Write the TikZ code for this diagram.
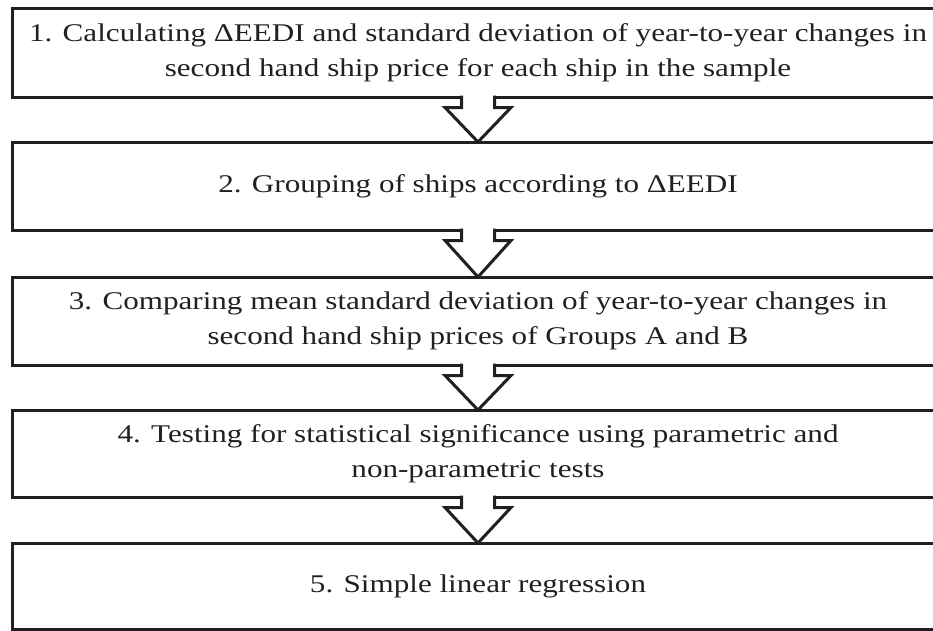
\documentclass[tikz,border=0pt]{standalone}
\usepackage{fontspec}
\setmainfont{Liberation Serif}[FakeStretch=1.22]
\usetikzlibrary{calc}
\definecolor{ink}{RGB}{35, 31, 32}

\newcommand{\downarrowstep}[2]{%
    \draw[stepArrow] ($(#1.south)+(-16.5,-1.5)$) -- ++(0,12) -- ++(-16.5,0)
        -- (#2.north) -- ($(#1.south)+(33,10.5)$) -- ++(-16.5,0) -- ++(0,-12);
}

\begin{document}
\begin{tikzpicture}[
        x=1pt, y=-1pt,
        stepBox/.style={
            draw=ink,
            line width=3pt,
            minimum width=932pt,
            inner sep=0pt,
            outer sep=0pt,
            align=center,
            text=ink,
            font=\fontsize{25.5}{35}\selectfont
        },
        stepArrow/.style={
            draw=ink,
            fill=white,
            line width=3pt,
            line join=miter
        }
    ]
    \useasboundingbox (0,0) rectangle (933,630);
    \clip (0,0) rectangle (933,630);

    \node[stepBox, minimum height=88.5pt] (s1) at (478,52.75)
        {1. Calculating ΔEEDI and standard deviation of year-to-year changes in\\
         second hand ship price for each ship in the sample};
    \node[stepBox, minimum height=88pt] (s2) at (478,186)
        {2. Grouping of ships according to ΔEEDI};
    \node[stepBox, minimum height=88pt] (s3) at (478,321)
        {3. Comparing mean standard deviation of year-to-year changes in\\
         second hand ship prices of Groups A and B};
    \node[stepBox, minimum height=87pt] (s4) at (478,453.5)
        {4. Testing for statistical significance using parametric and\\
         non-parametric tests};
    \node[stepBox, minimum height=86pt] (s5) at (478,586)
        {5. Simple linear regression};

    \downarrowstep{s1}{s2}
    \downarrowstep{s2}{s3}
    \downarrowstep{s3}{s4}
    \downarrowstep{s4}{s5}
\end{tikzpicture}
\end{document}
